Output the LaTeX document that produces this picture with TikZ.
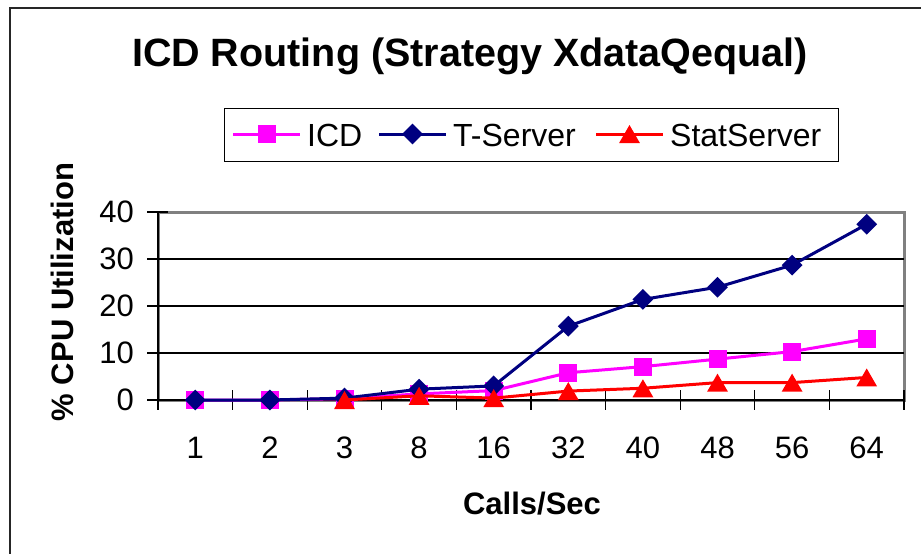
\documentclass[tikz,border=0pt]{standalone}
\usepackage{fontspec}
\setmainfont{Liberation Sans}
\usepackage{xcolor}
\usepackage{tikz}
\usetikzlibrary{shapes.geometric}
\definecolor{Marine}{RGB}{0,0,128}
\definecolor{Fuchsia}{RGB}{255,0,255}
\definecolor{Rouge}{RGB}{255,0,0}
\definecolor{GrisCadre}{RGB}{128,128,128}
\tikzset{
Cadre/.style={
 draw=black!85,
 line width=1.5pt
 },
ChartTitle/.style={
 font=\fontsize{39.5}{46}\selectfont\bfseries,
 inner sep=0pt
 },
AxisTitle/.style={
 font=\fontsize{31}{36}\selectfont\bfseries,
 inner sep=0pt
 },
TickLabel/.style={
 font=\fontsize{31}{36}\selectfont,
 inner sep=0pt
 },
LegendText/.style={
 font=\fontsize{32}{38}\selectfont,
 inner sep=0pt
 },
LegendBox/.style={
 draw=black,
 line width=1pt
 },
PlotBorder/.style={
 draw=GrisCadre,
 line width=3pt
 },
GridLine/.style={
 draw=black,
 line width=1.3pt
 },
AxisLine/.style={
 draw=black,
 line width=1.3pt
 },
ICDLine/.style={
 draw=Fuchsia,
 line width=3pt,
 line join=round
 },
TSLine/.style={
 draw=Marine,
 line width=3pt,
 line join=round
 },
SSLine/.style={
 draw=Rouge,
 line width=3pt,
 line join=round
 },
ICDMark/.style={
 rectangle,
 fill=Fuchsia,
 minimum size=18pt,
 inner sep=0pt
 },
TSMark/.style={
 diamond,
 fill=Marine,
 minimum size=21pt,
 inner sep=0pt
 },
SSMark/.style={
 regular polygon,
 regular polygon sides=3,
 fill=Rouge,
 minimum size=24pt,
 inner sep=0pt,
 yshift=-3pt
 }
}

\begin{document}
\begin{tikzpicture}[x=1pt,y=-1pt]
\useasboundingbox (0,0) rectangle (921,554);
\draw[Cadre] (10,554) -- (10,8) -- (921,8);
\node[ChartTitle,anchor=base] (titre) at (470,66) {ICD Routing (Strategy XdataQequal)};
\draw[LegendBox] (224,108) rectangle (838,161);
\foreach \s/\x/\t in {ICD/233/ICD,TS/379/T-Server,SS/596/StatServer}{
 \coordinate (lg\s a) at (\x,134);
 \coordinate (lg\s b) at (\x+67,134);
 \draw[\s Line] (lg\s a) -- (lg\s b);
 \node[\s Mark] (lgm\s) at (\x+33.5,134) {};
 \node[LegendText,anchor=base west] (lgt\s) at (\x+74,146) {\t};
}
\draw[PlotBorder] (158,212) rectangle (904,400);
\foreach \v in {10,20,30}
 \draw[GridLine] (158,{400-4.7*\v}) -- (904,{400-4.7*\v});
\draw[AxisLine] (158,212) -- (158,410);
\draw[AxisLine] (158,400) -- (904,400);
\foreach \v in {0,10,...,40}{
 \draw[AxisLine] (147,{400-4.7*\v}) -- (168,{400-4.7*\v});
 \node[TickLabel,anchor=east] (yl\v) at (134,{400-4.7*\v}) {\v};
}
\foreach \k in {1,...,10}
 \draw[AxisLine] ({158+74.6*\k},390) -- ({158+74.6*\k},410);
\foreach \c [count=\i] in {1,2,3,8,16,32,40,48,56,64}
 \node[TickLabel,anchor=base] (xl\i) at ({158+74.6*(\i-0.5)},458) {\c};
\node[AxisTitle,anchor=base] (xtitre) at (532,514) {Calls/Sec};
\node[AxisTitle,anchor=base,rotate=90] (ytitre) at (73,292) {\% CPU Utilization};
\begin{scope}[shift={(158,400)},x=74.6pt,y=4.7pt]
\foreach \i/\v in {1/0,2/0,3/0.3,4/1.3,5/2,6/5.8,7/7.1,8/8.7,9/10.3,10/13}
 \coordinate (icd\i) at (\i-0.5,\v);
\foreach \i/\v in {1/0,2/0,3/0.4,4/2.3,5/3,6/15.7,7/21.4,8/24,9/28.7,10/37.4}
 \coordinate (ts\i) at (\i-0.5,\v);
\foreach \i/\v in {3/0,4/0.9,5/0.4,6/1.9,7/2.5,8/3.7,9/3.7,10/4.8}
 \coordinate (ss\i) at (\i-0.5,\v);
\draw[ICDLine] (icd1) \foreach \i in {2,...,10} {-- (icd\i)};
\foreach \i in {1,...,10} \node[ICDMark] (micd\i) at (icd\i) {};
\draw[TSLine] (ts1) \foreach \i in {2,...,10} {-- (ts\i)};
\foreach \i in {1,...,10} \node[TSMark] (mts\i) at (ts\i) {};
\draw[SSLine] (ss3) \foreach \i in {4,...,10} {-- (ss\i)};
\foreach \i in {3,...,10} \node[SSMark] (mss\i) at (ss\i) {};
\end{scope}
\end{tikzpicture}
\end{document}
